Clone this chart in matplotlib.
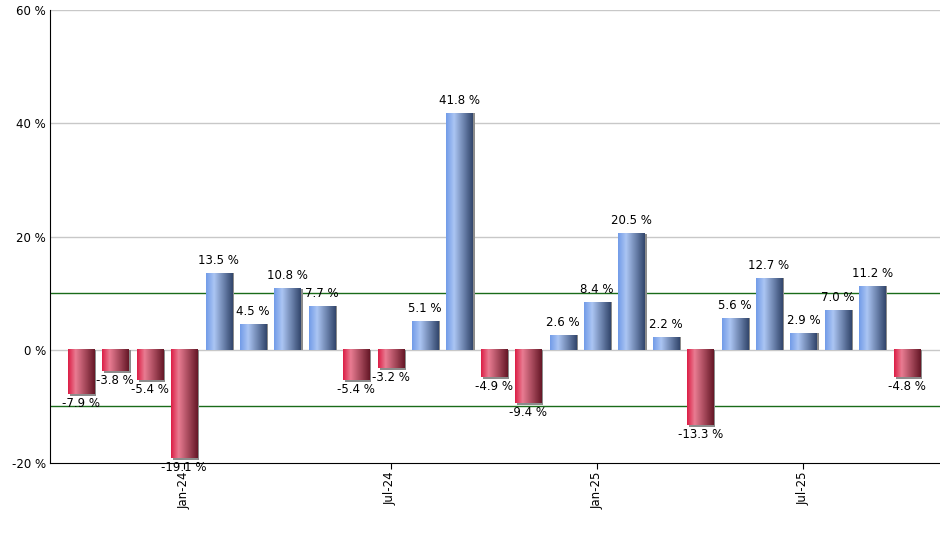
import matplotlib
matplotlib.use('Agg')
import matplotlib.pyplot as plt
import numpy as np
from matplotlib.colors import LinearSegmentedColormap
from matplotlib.patches import Rectangle

# monthly returns, Oct-23 .. Oct-25
valores = [-7.9, -3.8, -5.4, -19.1, 13.5, 4.5, 10.8, 7.7, -5.4, -3.2, 5.1, 41.8,
           -4.9, -9.4, 2.6, 8.4, 20.5, 2.2, -13.3, 5.6, 12.7, 2.9, 7.0, 11.2, -4.8]
etiquetas_x = ['Jan-24', 'Jul-24', 'Jan-25', 'Jul-25']
pos_etiquetas = [3, 9, 15, 21]
ticks_y = [-20, 0, 20, 40, 60]

azul = LinearSegmentedColormap.from_list('azul', [(0, '#729ce8'), (0.3, '#abc5f3'), (1, '#32466c')])
rojo = LinearSegmentedColormap.from_list('rojo', [(0, '#dc1f46'), (0.28, '#e97c92'), (1, '#661827')])
grad = np.linspace(0, 1, 64).reshape(1, -1)

fig = plt.figure(figsize=(9.4, 5.5), dpi=100)
ax = fig.add_axes([50 / 940, 87 / 550, 890 / 940, 453 / 550])

ancho = 0.76
for i, v in enumerate(valores):
    cmap = azul if v >= 0 else rojo
    # sombra
    base = v - 0.35 if v < 0 else 0
    ax.add_patch(Rectangle((i - ancho / 2 + 0.06, base), ancho, abs(v) + (0.35 if v < 0 else 0),
                           color='#8c8c8c', zorder=2, lw=0))
    ax.imshow(grad, cmap=cmap, aspect='auto', zorder=3,
              extent=(i - ancho / 2, i + ancho / 2, min(0, v), max(0, v)))
    if v >= 0:
        ax.text(i, v + 1.1, f'{v:.1f} %', ha='center', va='bottom', fontsize=8.5)
    else:
        ax.text(i, v - 0.5, f'{v:.1f} %', ha='center', va='top', fontsize=8.5)

ax.set_xlim(-0.9, 24.97)
ax.set_ylim(-20, 60)

for y in [0, 20, 40, 60]:
    ax.axhline(y, color='#c8c8c8', lw=1, zorder=1)
ax.axhline(10, color='#1a6b1a', lw=1, zorder=1)
ax.axhline(-10, color='#1a6b1a', lw=1, zorder=1)

ax.set_yticks(ticks_y)
ax.set_yticklabels([f'{t} %' for t in ticks_y], fontsize=8.5)
ax.set_xticks(pos_etiquetas)
ax.set_xticklabels(etiquetas_x, rotation=90, fontsize=8.5)
ax.tick_params(axis='y', length=0, pad=3)
ax.tick_params(axis='x', length=4, pad=2)

ax.spines['top'].set_visible(False)
ax.spines['right'].set_visible(False)

fig.savefig('out.png', dpi=100)
